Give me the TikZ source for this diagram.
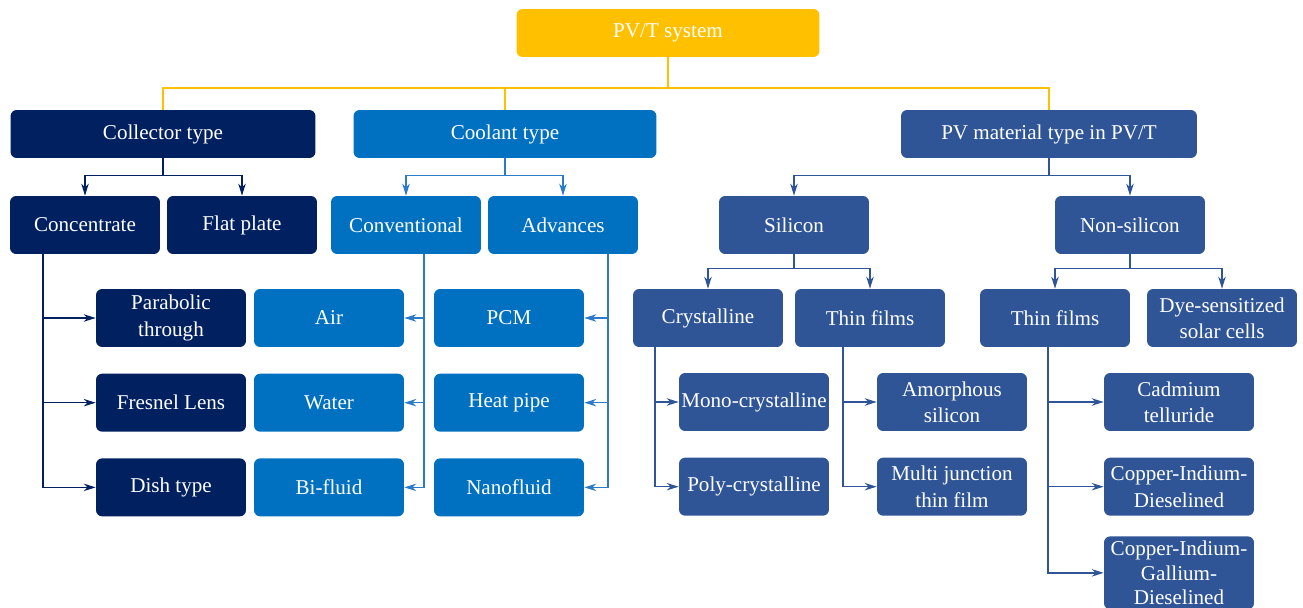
\documentclass[tikz,border=0pt]{standalone}
\usepackage{fontspec}
\setmainfont{Liberation Serif}
\usetikzlibrary{positioning, arrows.meta}

\definecolor{pvyellow}{HTML}{FFC000}
\definecolor{collnavy}{HTML}{002060}
\definecolor{coolblue}{HTML}{0070C0}
\definecolor{matblue}{HTML}{2F5597}
\definecolor{coolline}{HTML}{2B7BC9}

\begin{document}
\begin{tikzpicture}[x=0.02cm, y=-0.02cm,
  every node/.style={font=\fontsize{12}{15}\selectfont},
  box/.style={rectangle, rounded corners=3.5pt, inner sep=1pt, text=white,
    align=center, minimum width=3cm, minimum height=1.16cm},
  headbox/.style={box, minimum height=0.96cm},
  bus/.style={pvyellow, line width=0.8pt},
  link/.style={line width=0.75pt, -{Stealth[length=2.4mm, width=1.5mm]}}]
\useasboundingbox (0,0) rectangle (1303,608);

% top level
\node (pvt) [headbox, fill=pvyellow, minimum width=6.06cm] at (668,33) {PV/T system};
\node (coll) [headbox, fill=collnavy, minimum width=6.1cm] at (163,134) {Collector type};
\node (cool) [headbox, fill=coolblue, minimum width=6.06cm] at (505,134) {Coolant type};
\node (mat) [headbox, fill=matblue, minimum width=5.92cm] at (1049,134) {PV material type in PV/T};

% second level
\node (conc) [box, fill=collnavy] at (85,225) {Concentrate};
\node (flat) [box, fill=collnavy] at (242,225) {Flat plate};
\node (conv) [box, fill=coolblue] at (406,225) {Conventional};
\node (adv) [box, fill=coolblue] at (563,225) {Advances};
\node (sil) [box, fill=matblue] at (794,225) {Silicon};
\node (nonsil) [box, fill=matblue] at (1130,225) {Non-silicon};

% collector kinds
\node (parab) [box, fill=collnavy] at (171,318) {Parabolic\\through};
\node (fres) [box, fill=collnavy, below=0.52cm of parab] {Fresnel Lens};
\node (dish) [box, fill=collnavy, below=0.52cm of fres] {Dish type};

% coolants
\node (air) [box, fill=coolblue] at (329,318) {Air};
\node (water) [box, fill=coolblue, below=0.52cm of air] {Water};
\node (bifl) [box, fill=coolblue, below=0.52cm of water] {Bi-fluid};
\node (pcm) [box, fill=coolblue] at (509,318) {PCM};
\node (heat) [box, fill=coolblue, below=0.52cm of pcm] {Heat pipe};
\node (nano) [box, fill=coolblue, below=0.52cm of heat] {Nanofluid};

% materials
\node (cryst) [box, fill=matblue] at (708,318) {Crystalline};
\node (thin) [box, fill=matblue] at (870,318) {Thin films};
\node (thinb) [box, fill=matblue] at (1055,318) {Thin films};
\node (dye) [box, fill=matblue] at (1222,318) {Dye-sensitized\\solar cells};
\node (mono) [box, fill=matblue] at (754,402) {Mono-crystalline};
\node (poly) [box, fill=matblue, below=0.52cm of mono] {Poly-crystalline};
\node (amor) [box, fill=matblue] at (952,402) {Amorphous\\silicon};
\node (multi) [box, fill=matblue, below=0.52cm of amor] {Multi junction\\thin film};
\node (cadm) [box, fill=matblue] at (1179,402) {Cadmium\\telluride};
\node (cid) [box, fill=matblue, below=0.52cm of cadm] {Copper-Indium-\\Dieselined};
\node (cigd) [box, fill=matblue, font=\fontsize{12}{14}\selectfont, minimum height=1.46cm,
  below=0.4cm of cid] {Copper-Indium-\\Gallium-\\Dieselined};

% yellow bus
\coordinate (rootbus) at (668,88);
\draw[bus] (pvt) -- (rootbus);
\draw[bus] (rootbus) -| (coll);
\draw[bus] (rootbus) -| (cool);
\draw[bus] (rootbus) -| (mat);

% forks
\draw[link, collnavy] (coll.south) -- ++(0,17) -| (conc);
\draw[link, collnavy] (coll.south) -- ++(0,17) -| (flat);
\draw[link, coolline] (cool.south) -- ++(0,17) -| (conv);
\draw[link, coolline] (cool.south) -- ++(0,17) -| (adv);
\draw[link, matblue] (mat.south) -- ++(0,17) -| (sil);
\draw[link, matblue] (mat.south) -- ++(0,17) -| (nonsil);
\draw[link, matblue] (sil.south) -- ++(0,14) -| (cryst);
\draw[link, matblue] (sil.south) -- ++(0,14) -| (thin);
\draw[link, matblue] (nonsil.south) -- ++(0,14) -| (thinb);
\draw[link, matblue] (nonsil.south) -- ++(0,14) -| (dye);

% side trunks
\coordinate (conctrunk) at (43,254);
\coordinate (convtrunk) at (424,254);
\coordinate (advtrunk) at (608,254);
\coordinate (crysttrunk) at (655,347);
\coordinate (thintrunk) at (843,347);
\coordinate (thinbtrunk) at (1048,347);
\foreach \c in {parab, fres, dish}
  \draw[link, collnavy] (conctrunk) |- (\c);
\foreach \c in {air, water, bifl}
  \draw[link, coolline] (convtrunk) |- (\c);
\foreach \c in {pcm, heat, nano}
  \draw[link, coolline] (advtrunk) |- (\c);
\foreach \c in {mono, poly}
  \draw[link, matblue] (crysttrunk) |- (\c);
\foreach \c in {amor, multi}
  \draw[link, matblue] (thintrunk) |- (\c);
\foreach \c in {cadm, cid, cigd}
  \draw[link, matblue] (thinbtrunk) |- (\c);
\end{tikzpicture}
\end{document}
